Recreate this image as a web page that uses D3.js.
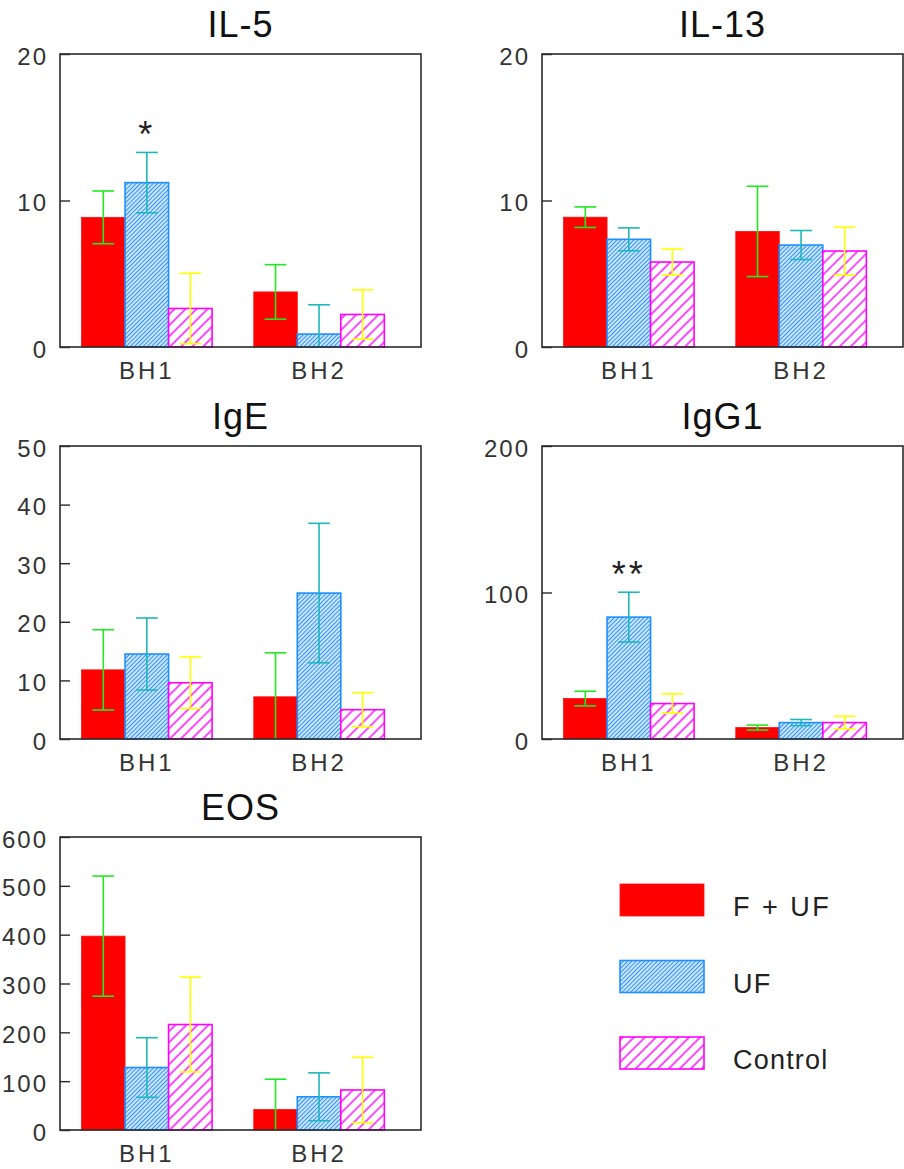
<!DOCTYPE html>
<html>
<head>
<meta charset="utf-8">
<script src="https://cdn.jsdelivr.net/npm/d3@7"></script>
<style>
  html, body { margin: 0; padding: 0; background: #fff; }
  svg { display: block; }
  text { font-family: Arial, "Liberation Sans", sans-serif; }
</style>
</head>
<body>
<svg id="chart" width="904" height="1169"></svg>
<script>
// ---- data ----
const groups = ["BH1", "BH2"];
const seriesNames = ["F + UF", "UF", "Control"];

const panelNames = ["IL-5", "IL-13", "IgE", "IgG1", "EOS"];
const yMaxima = [20, 20, 50, 200, 600];
const yTickValues = [
  [0, 10, 20],
  [0, 10, 20],
  [0, 10, 20, 30, 40, 50],
  [0, 100, 200],
  [0, 100, 200, 300, 400, 500, 600]
];

// mean values: [group][series]
const il5Mean  = [[8.85, 11.22, 2.63], [3.76, 0.88, 2.22]];
const il13Mean = [[8.86, 7.35, 5.80], [7.89, 6.96, 6.55]];
const igeMean  = [[11.8, 14.5, 9.6], [7.2, 24.9, 5.0]];
const igg1Mean = [[27.6, 83.2, 24.2], [7.8, 11.2, 11.2]];
const eosMean  = [[397, 128, 216], [42, 68, 82]];

// standard errors: [group][series]
const il5Err  = [[1.8, 2.06, 2.4], [1.86, 2.0, 1.68]];
const il13Err = [[0.7, 0.78, 0.88], [3.08, 0.99, 1.63]];
const igeErr  = [[6.85, 6.15, 4.4], [7.5, 11.9, 2.9]];
const igg1Err = [[5.0, 17.0, 6.6], [1.7, 2.1, 4.4]];
const eosErr  = [[123, 61, 97], [62, 49, 67]];

const panelMeans = [il5Mean, il13Mean, igeMean, igg1Mean, eosMean];
const panelErrs  = [il5Err, il13Err, igeErr, igg1Err, eosErr];

// significance marks
const sigPanels = ["IL-5", "IgG1"];
const sigGroups = ["BH1", "BH1"];
const sigSeries = ["UF", "UF"];
const sigLabels = ["*", "**"];

// ---- styling ----
const seriesFill = ["#ff0000", "url(#hatchBlue)", "url(#hatchPink)"];
const seriesStroke = ["#ff1010", "#1e8fff", "#ff00ff"];
const errColor = ["#22e822", "#1fb8b8", "#ffff00"];

const svg = d3.select("#chart");
const defs = svg.append("defs");

function hatch(id, spacing, color, width) {
  const p = defs.append("pattern")
    .attr("id", id)
    .attr("patternUnits", "userSpaceOnUse")
    .attr("width", spacing)
    .attr("height", spacing)
    .attr("patternTransform", "rotate(45)");
  p.append("rect").attr("width", spacing).attr("height", spacing).attr("fill", "#fff");
  p.append("line")
    .attr("x1", spacing / 2).attr("y1", 0).attr("x2", spacing / 2).attr("y2", spacing)
    .attr("stroke", color).attr("stroke-width", width);
}
hatch("hatchBlue", 3.0, "#2f94ff", 1.5);
hatch("hatchPink", 7.8, "#ff10ff", 1.5);

// panel layout
const boxW = 361, boxH = 293;
const panelX = [60, 542, 60, 542, 60];
const panelY = [54, 54, 446, 446, 837];

panelNames.forEach((name, pi) => {
  const g = svg.append("g").attr("transform", `translate(${panelX[pi]},${panelY[pi]})`);
  const y = d3.scaleLinear().domain([0, yMaxima[pi]]).range([boxH, 0]);
  const x0 = d3.scaleBand().domain(groups).range([0, boxW])
    .paddingInner(0.242).paddingOuter(0.169).align(0.37);
  const x1 = d3.scaleBand().domain(seriesNames).range([0, x0.bandwidth()]);

  const means = panelMeans[pi], errs = panelErrs[pi];
  const rows = [];
  groups.forEach((gr, gi) => seriesNames.forEach((s, si) => {
    rows.push({ group: gr, series: s, si, mean: means[gi][si], err: errs[gi][si] });
  }));

  // bars
  g.selectAll("rect.bar").data(rows).join("rect")
    .attr("class", "bar")
    .attr("x", d => x0(d.group) + x1(d.series))
    .attr("y", d => y(d.mean))
    .attr("width", x1.bandwidth())
    .attr("height", d => y(0) - y(d.mean))
    .attr("fill", d => seriesFill[d.si])
    .attr("stroke", d => seriesStroke[d.si])
    .attr("stroke-width", d => d.si === 0 ? 0.8 : 1.6);

  // error bars (lower end clipped at the axis)
  const cap = x1.bandwidth() / 2;
  const eb = g.selectAll("g.err").data(rows).join("g").attr("class", "err")
    .attr("transform", d => `translate(${x0(d.group) + x1(d.series) + x1.bandwidth() / 2},0)`)
    .attr("stroke", d => errColor[d.si]).attr("stroke-width", 1.6);
  eb.append("line")
    .attr("y1", d => y(d.mean + d.err))
    .attr("y2", d => y(Math.max(0, d.mean - d.err)));
  eb.append("line")
    .attr("x1", -cap / 2).attr("x2", cap / 2)
    .attr("y1", d => y(d.mean + d.err)).attr("y2", d => y(d.mean + d.err));
  eb.filter(d => d.mean - d.err > 0).append("line")
    .attr("x1", -cap / 2).attr("x2", cap / 2)
    .attr("y1", d => y(d.mean - d.err)).attr("y2", d => y(d.mean - d.err));

  // frame
  g.append("rect").attr("width", boxW).attr("height", boxH)
    .attr("fill", "none").attr("stroke", "#2a2a2a").attr("stroke-width", 1.6);

  // y axis
  const yAxis = d3.axisLeft(y).tickValues(yTickValues[pi]).tickSize(-10).tickPadding(12);
  const ya = g.append("g").call(yAxis);
  ya.select(".domain").remove();
  ya.selectAll(".tick line").attr("stroke", "#2a2a2a").attr("stroke-width", 1.4);
  ya.selectAll(".tick text")
    .attr("font-size", 24).attr("fill", "#333")
    .attr("letter-spacing", 2).attr("dy", "0.42em")
    .attr("font-family", "Arial, 'Liberation Sans', sans-serif");

  // x axis labels
  const xAxis = d3.axisBottom(x0).tickSize(0).tickPadding(14);
  const xa = g.append("g").attr("transform", `translate(0,${boxH})`).call(xAxis);
  xa.select(".domain").remove();
  xa.selectAll(".tick text")
    .attr("font-size", 24).attr("fill", "#333")
    .attr("letter-spacing", 3).attr("dy", "0.75em")
    .attr("font-family", "Arial, 'Liberation Sans', sans-serif");

  // title
  g.append("text").attr("x", boxW / 2).attr("y", -17.5)
    .attr("text-anchor", "middle").attr("font-size", 36)
    .attr("letter-spacing", 1).attr("fill", "#111").text(name);

  // significance marks
  sigPanels.forEach((sp, k) => {
    if (sp !== name) return;
    const gi = groups.indexOf(sigGroups[k]);
    const si = seriesNames.indexOf(sigSeries[k]);
    const top = y(means[gi][si] + errs[gi][si]);
    g.append("text")
      .attr("x", x0(sigGroups[k]) + x1(sigSeries[k]) + x1.bandwidth() / 2)
      .attr("y", top - 25 + 20)
      .attr("text-anchor", "middle").attr("font-size", 36)
      .attr("letter-spacing", 3).attr("fill", "#222")
      .text(sigLabels[k]);
  });
});

// legend
const legendY = d3.scalePoint().domain(seriesNames).range([884, 1037]);
const lg = svg.append("g");
seriesNames.forEach((s, si) => {
  lg.append("rect").attr("x", 620).attr("y", legendY(s))
    .attr("width", 84).attr("height", 32)
    .attr("fill", seriesFill[si]).attr("stroke", seriesStroke[si])
    .attr("stroke-width", si === 0 ? 0.8 : 1.6);
  lg.append("text").attr("x", 733).attr("y", legendY(s) + 32)
    .attr("font-size", 27).attr("letter-spacing", s === "F + UF" ? 2.5 : 1.2)
    .attr("fill", "#222")
    .text(s);
});
</script>
</body>
</html>
